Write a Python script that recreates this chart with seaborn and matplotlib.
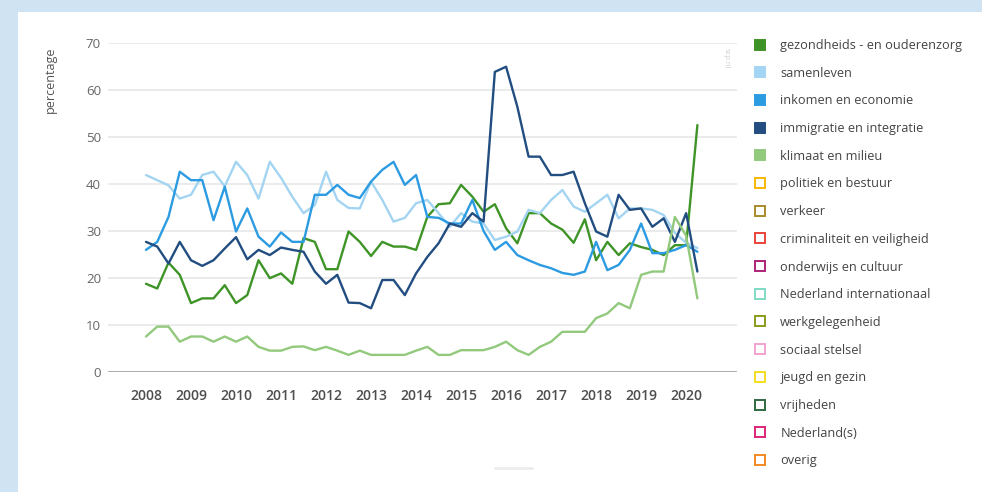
import pandas as pd
import matplotlib.pyplot as plt
from matplotlib.lines import Line2D
from matplotlib.patches import Rectangle
import seaborn as sns

# quarters 2008 Q1 .. 2020 Q2
kwartalen = [2008 + 0.25 * i for i in range(50)]
jaren = list(range(2008, 2021))

gezondheid = [18.8, 17.8, 23.3, 20.7, 14.7, 15.7, 15.7, 18.5, 14.7, 16.4,
              23.8, 20.0, 21.0, 18.8, 28.5, 27.7, 21.9, 21.9, 29.9, 27.7,
              24.7, 27.7, 26.7, 26.7, 26.0, 33.0, 35.7, 35.9, 39.8, 37.3,
              34.1, 35.7, 30.6, 27.4, 33.8, 33.8, 31.6, 30.3, 27.5, 32.5,
              23.8, 27.7, 24.9, 27.4, 26.6, 26.0, 24.9, 27.0, 27.0, 52.5]
samenleven = [41.9, 40.8, 39.7, 36.9, 37.7, 41.9, 42.6, 39.5, 44.7, 41.9,
              36.9, 44.7, 41.3, 37.3, 33.8, 35.5, 42.6, 36.6, 34.9, 34.8,
              40.5, 36.6, 32.0, 32.8, 35.9, 36.6, 33.8, 30.9, 33.8, 32.0,
              31.6, 28.1, 28.8, 29.9, 34.5, 33.8, 36.6, 38.7, 35.2, 34.1,
              35.9, 37.7, 32.7, 34.8, 34.8, 34.5, 33.4, 29.6, 27.5, 26.4]
inkomen = [26.0, 27.7, 33.0, 42.6, 40.8, 40.8, 32.3, 39.4, 29.9, 34.8,
           28.8, 26.7, 29.7, 27.7, 27.7, 37.7, 37.7, 39.8, 37.7, 37.0,
           40.5, 43.0, 44.7, 39.8, 41.9, 33.0, 32.8, 31.6, 31.6, 36.6,
           30.0, 26.0, 27.7, 24.9, 23.8, 22.8, 22.1, 21.1, 20.7, 21.4,
           27.7, 21.7, 22.8, 26.0, 31.6, 25.3, 25.3, 26.0, 27.0, 25.6]
immigratie = [27.7, 26.7, 23.1, 27.7, 23.8, 22.6, 23.8, 26.3, 28.7, 24.0,
              26.0, 24.9, 26.5, 26.0, 25.6, 21.4, 18.8, 20.7, 14.8, 14.7,
              13.6, 19.6, 19.6, 16.4, 21.0, 24.5, 27.4, 31.6, 30.9, 33.8,
              32.0, 63.8, 64.9, 56.4, 45.8, 45.8, 41.9, 41.9, 42.6, 35.9,
              29.9, 28.8, 37.7, 34.5, 34.8, 30.9, 32.7, 27.7, 33.8, 21.4]
klimaat = [7.6, 9.7, 9.7, 6.5, 7.6, 7.6, 6.5, 7.6, 6.5, 7.6,
           5.4, 4.6, 4.6, 5.4, 5.5, 4.7, 5.4, 4.6, 3.7, 4.6,
           3.7, 3.7, 3.7, 3.7, 4.6, 5.4, 3.7, 3.7, 4.7, 4.7,
           4.7, 5.4, 6.5, 4.7, 3.7, 5.4, 6.5, 8.6, 8.6, 8.6,
           11.5, 12.5, 14.7, 13.6, 20.7, 21.4, 21.4, 33.0, 29.0, 15.7]

themas = ["gezondheids - en ouderenzorg", "samenleven", "inkomen en economie",
          "immigratie en integratie", "klimaat en milieu", "politiek en bestuur",
          "verkeer", "criminaliteit en veiligheid", "onderwijs en cultuur",
          "Nederland internationaal", "werkgelegenheid", "sociaal stelsel",
          "jeugd en gezin", "vrijheden", "Nederland(s)", "overig"]
kleuren = ["#3f9427", "#a3d4f1", "#2c9be2", "#224d80", "#92c97c", "#f5b800",
           "#a8892c", "#e8453c", "#ad2277", "#80d9c4", "#8c9a1e", "#f4a3d1",
           "#f3df23", "#2f6a40", "#de2279", "#f08a22"]

reeksen = [gezondheid, samenleven, inkomen, immigratie, klimaat]
df = pd.concat([pd.DataFrame({"kwartaal": kwartalen, "percentage": r, "thema": t})
                for t, r in zip(themas[:5], reeksen)])

sns.set_theme(style="white")
plt.rcParams["font.family"] = ["Open Sans", "DejaVu Sans"]

fig = plt.figure(figsize=(9.82, 4.92), dpi=100, facecolor="#cfe3f3")
fig.patches.append(Rectangle((18 / 982, 0), 1, 480 / 492, transform=fig.transFigure,
                             facecolor="white", edgecolor="none", zorder=-5))

ax = fig.add_axes([108 / 982, 119.7 / 492, 629 / 982, 329.6 / 492])
ax.set_facecolor("white")
sns.lineplot(data=df, x="kwartaal", y="percentage", hue="thema", hue_order=themas[:5],
             palette=kleuren[:5], linewidth=1.7, legend=False, ax=ax)

ax.set_ylim(0, 70)
ax.set_yticks(range(0, 71, 10))
ax.set_xlim(2007.156, 2021.13)
ax.set_xticks(jaren)
ax.set_xlabel("")
ax.set_ylabel("")
ax.grid(axis="y", color="#e6e6e6", linewidth=1.1)
ax.grid(axis="x", visible=False)
for s in ax.spines.values():
    s.set_visible(False)
ax.axhline(0, color="#9a9a9a", linewidth=1.8, zorder=1)
ax.tick_params(axis="y", length=0, pad=5, labelsize=9.5, labelcolor="#666666")
ax.tick_params(axis="x", length=0, pad=12, labelsize=10, labelcolor="#4d4d4d")
for lbl in ax.get_xticklabels():
    lbl.set_fontweight("semibold")

fig.text(50 / 982, 1 - 80 / 492, "percentage", rotation=90, ha="center", va="center",
         fontsize=9, color="#555555")
fig.text(726 / 982, 1 - 58 / 492, "scp.nl", rotation=270, ha="center", va="center",
         fontsize=5.5, color="#cfcfcf")

handles = []
for i, c in enumerate(kleuren):
    handles.append(Line2D([], [], marker="s", linestyle="none", markersize=7,
                          markerfacecolor=c if i < 5 else "white",
                          markeredgecolor=c, markeredgewidth=1.4))
fig.legend(handles, themas, loc="upper left", bbox_to_anchor=(756 / 982, 1 - 39 / 492),
           frameon=False, fontsize=9.2, labelspacing=1.15, handlelength=0.7,
           handletextpad=1.2, borderpad=0, borderaxespad=0, labelcolor="#444444")

fig.add_artist(Line2D([495 / 982, 532 / 982], [1 - 468 / 492] * 2, color="#ececec", linewidth=2))

fig.savefig("out.png", dpi=100, facecolor=fig.get_facecolor())
